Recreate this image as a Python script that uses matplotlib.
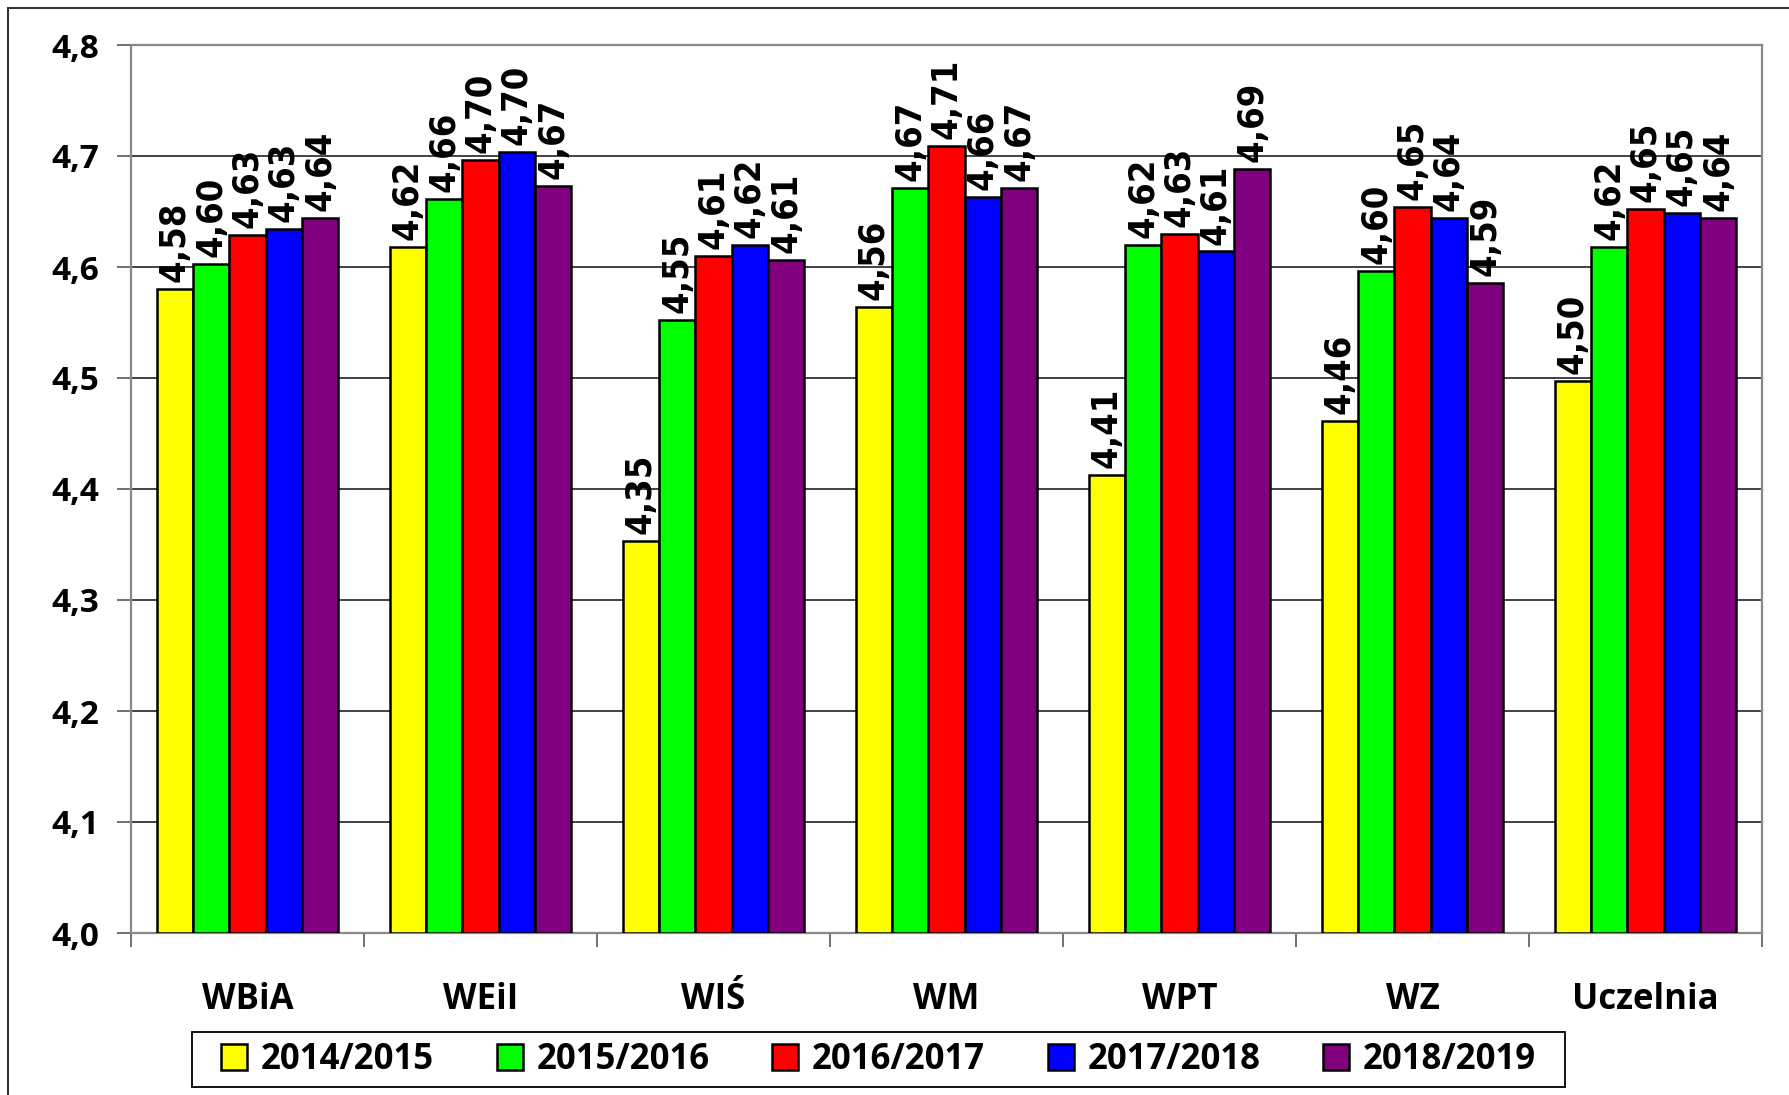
import matplotlib
matplotlib.use('Agg')
import matplotlib.pyplot as plt
from matplotlib.patches import Rectangle
import numpy as np

# Faculties (categories) and school years (series)
faculties = ['WBiA', 'WEiI', 'WIŚ', 'WM', 'WPT', 'WZ', 'Uczelnia']
years = ['2014/2015', '2015/2016', '2016/2017', '2017/2018', '2018/2019']

# Average ratings, one list per school year
y2014 = [4.580, 4.618, 4.353, 4.564, 4.413, 4.461, 4.497]
y2015 = [4.603, 4.661, 4.552, 4.671, 4.620, 4.596, 4.618]
y2016 = [4.629, 4.696, 4.610, 4.709, 4.630, 4.654, 4.652]
y2017 = [4.634, 4.704, 4.620, 4.663, 4.614, 4.644, 4.649]
y2018 = [4.644, 4.673, 4.606, 4.671, 4.688, 4.586, 4.644]

y_ticks = [4.0, 4.1, 4.2, 4.3, 4.4, 4.5, 4.6, 4.7, 4.8]

colors = ['#FFFF00', '#00FF00', '#FF0000', '#0000FF', '#800080']

W, H = 1789, 1095


def comma(v, nd):
    """Format a number with a decimal comma."""
    return f'{v:.{nd}f}'.replace('.', ',')


def make_fig():
    """
    Builds the grouped bar chart and returns the figure.
    """
    series = [y2014, y2015, y2016, y2017, y2018]

    fig = plt.figure(figsize=(W / 100, H / 100), dpi=100)
    fig.patch.set_facecolor('white')
    ax = fig.add_axes([131 / W, 1 - 933 / H, (1762 - 131) / W, (933 - 45) / H])

    x = np.arange(len(faculties))
    bw = 0.156
    handles = []
    for i, vals in enumerate(series):
        pos = x + (i - 2) * bw
        bars = ax.bar(pos, np.array(vals) - 4.0, bottom=4.0, width=bw,
                      color=colors[i], edgecolor='black', linewidth=1.8,
                      zorder=3, label=years[i])
        handles.append(bars)
        # rotated value labels above every bar
        for px, v in zip(pos, vals):
            ax.annotate(comma(v, 2), (px, v), xytext=(0, 5),
                        textcoords='offset points', rotation=90,
                        ha='center', va='bottom', fontsize=26,
                        fontweight='bold', family='DejaVu Sans',
                        fontstretch='condensed',
                        zorder=4, annotation_clip=False)

    # Axes limits, grid and ticks
    ax.set_ylim(4.0, 4.8)
    ax.set_xlim(-0.5, len(faculties) - 0.5)
    ax.set_yticks(y_ticks)
    ax.set_yticklabels([comma(t, 1) for t in y_ticks], fontsize=24,
                       fontweight='bold', family='Open Sans')
    ax.yaxis.grid(True, color='#222222', linewidth=1.2, zorder=0)
    ax.set_axisbelow(True)

    ax.set_xticks(x)
    ax.set_xticklabels(faculties, fontsize=25, fontweight='bold',
                       family='Open Sans')
    ax.set_xticks(np.arange(-0.5, len(faculties)), minor=True)
    ax.tick_params(axis='x', which='major', length=0, pad=35)
    ax.tick_params(axis='x', which='minor', length=10, width=1.3,
                   color='#666666', direction='out')
    ax.tick_params(axis='y', length=10, width=1.3, color='#666666',
                   direction='out', pad=13)

    for side in ['left', 'top', 'right', 'bottom']:
        ax.spines[side].set_color('#888888')
        ax.spines[side].set_linewidth(1.6)

    # Legend with a separate frame drawn in figure pixels
    leg = fig.legend(handles=handles, loc='center',
                     bbox_to_anchor=(878.5 / W, 1 - 1060 / H), ncol=5,
                     frameon=False, handlelength=0.75, handleheight=0.75,
                     handletextpad=0.4, columnspacing=1.8,
                     prop={'family': 'Open Sans', 'weight': 'bold',
                           'size': 25})
    for p in leg.get_patches():
        p.set_linewidth(1.8)

    fig.add_artist(Rectangle((192 / W, 1 - 1087 / H), (1565 - 192) / W,
                             55 / H, transform=fig.transFigure,
                             fill=False, edgecolor='black', linewidth=1.3))

    # Outer chart border (only left and top fall inside the image)
    fig.add_artist(Rectangle((8 / W, -0.1), 1.2, 1.1 - 7.5 / H,
                             transform=fig.transFigure, fill=False,
                             edgecolor='#333333', linewidth=1.5,
                             clip_on=False))
    return fig


def main():
    """
    Creates the figure and saves it to out.png
    """
    fig = make_fig()
    fig.savefig('out.png', dpi=100)


main()
